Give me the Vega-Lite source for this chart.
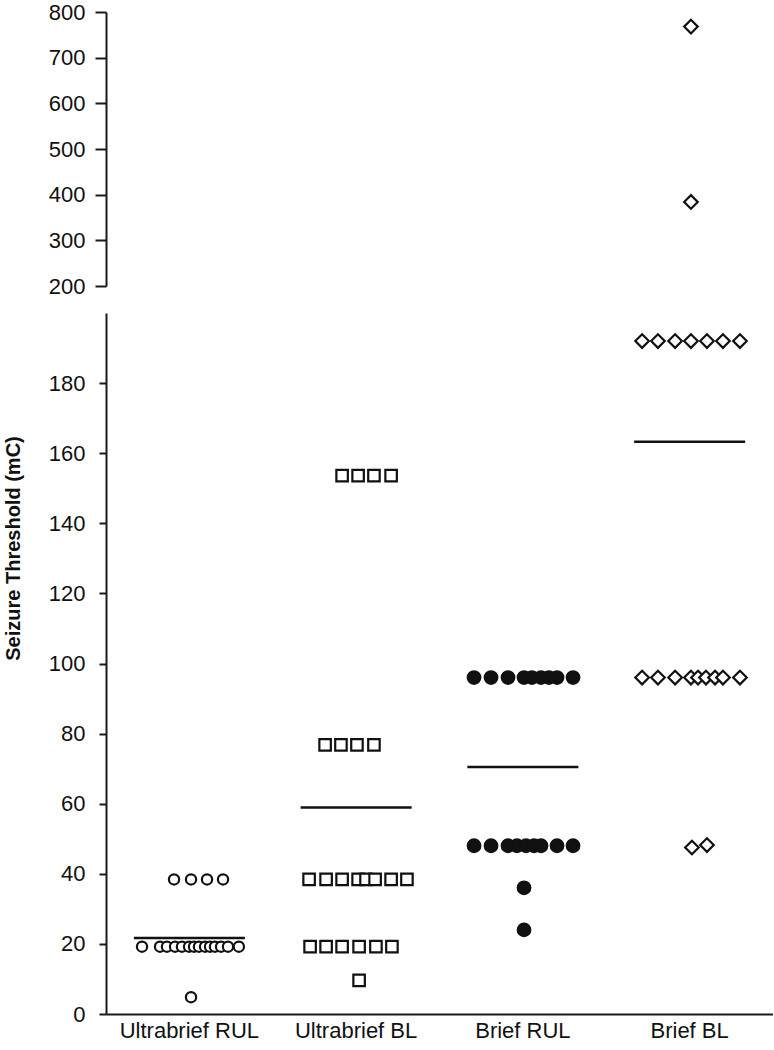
{
  "$schema": "https://vega.github.io/schema/vega-lite/v6.json",
  "padding": {"top": 1, "left": 3, "right": 0, "bottom": 0},
  "background": "white",
  "config": {
    "font": "Liberation Sans",
    "view": {"stroke": null},
    "axis": {
      "domainColor": "#1a1a1a", "domainWidth": 2, "tickColor": "#1a1a1a", "tickWidth": 2,
      "labelColor": "#111", "labelFontSize": 22, "labelFont": "Liberation Sans", "grid": false
    }
  },
  "datasets": {
    "points": [
      {"group": "Ultrabrief RUL", "value": 38.4, "slot": -0.93},
      {"group": "Ultrabrief RUL", "value": 38.4, "slot": 0.1},
      {"group": "Ultrabrief RUL", "value": 38.4, "slot": 1.07},
      {"group": "Ultrabrief RUL", "value": 38.4, "slot": 2.04},
      {"group": "Ultrabrief RUL", "value": 19.2, "slot": -2.87},
      {"group": "Ultrabrief RUL", "value": 19.2, "slot": -1.78},
      {"group": "Ultrabrief RUL", "value": 19.2, "slot": -1.36},
      {"group": "Ultrabrief RUL", "value": 19.2, "slot": -0.87},
      {"group": "Ultrabrief RUL", "value": 19.2, "slot": -0.45},
      {"group": "Ultrabrief RUL", "value": 19.2, "slot": -0.02},
      {"group": "Ultrabrief RUL", "value": 19.2, "slot": 0.28},
      {"group": "Ultrabrief RUL", "value": 19.2, "slot": 0.58},
      {"group": "Ultrabrief RUL", "value": 19.2, "slot": 0.95},
      {"group": "Ultrabrief RUL", "value": 19.2, "slot": 1.25},
      {"group": "Ultrabrief RUL", "value": 19.2, "slot": 1.55},
      {"group": "Ultrabrief RUL", "value": 19.2, "slot": 1.92},
      {"group": "Ultrabrief RUL", "value": 19.2, "slot": 2.34},
      {"group": "Ultrabrief RUL", "value": 19.2, "slot": 3.0},
      {"group": "Ultrabrief RUL", "value": 4.8, "slot": 0.1},
      {"group": "Ultrabrief BL", "value": 153.6, "slot": -0.85},
      {"group": "Ultrabrief BL", "value": 153.6, "slot": 0.12},
      {"group": "Ultrabrief BL", "value": 153.6, "slot": 1.08},
      {"group": "Ultrabrief BL", "value": 153.6, "slot": 2.12},
      {"group": "Ultrabrief BL", "value": 76.8, "slot": -1.88},
      {"group": "Ultrabrief BL", "value": 76.8, "slot": -0.92},
      {"group": "Ultrabrief BL", "value": 76.8, "slot": 0.05},
      {"group": "Ultrabrief BL", "value": 76.8, "slot": 1.08},
      {"group": "Ultrabrief BL", "value": 38.4, "slot": -2.85},
      {"group": "Ultrabrief BL", "value": 38.4, "slot": -1.82},
      {"group": "Ultrabrief BL", "value": 38.4, "slot": -0.85},
      {"group": "Ultrabrief BL", "value": 38.4, "slot": 0.12},
      {"group": "Ultrabrief BL", "value": 38.4, "slot": 0.6},
      {"group": "Ultrabrief BL", "value": 38.4, "slot": 1.15},
      {"group": "Ultrabrief BL", "value": 38.4, "slot": 2.12},
      {"group": "Ultrabrief BL", "value": 38.4, "slot": 3.08},
      {"group": "Ultrabrief BL", "value": 19.2, "slot": -2.79},
      {"group": "Ultrabrief BL", "value": 19.2, "slot": -1.82},
      {"group": "Ultrabrief BL", "value": 19.2, "slot": -0.85},
      {"group": "Ultrabrief BL", "value": 19.2, "slot": 0.18},
      {"group": "Ultrabrief BL", "value": 19.2, "slot": 1.2},
      {"group": "Ultrabrief BL", "value": 19.2, "slot": 2.17},
      {"group": "Ultrabrief BL", "value": 9.6, "slot": 0.18},
      {"group": "Brief RUL", "value": 96, "slot": -2.96},
      {"group": "Brief RUL", "value": 96, "slot": -1.93},
      {"group": "Brief RUL", "value": 96, "slot": -0.9},
      {"group": "Brief RUL", "value": 96, "slot": 0.07},
      {"group": "Brief RUL", "value": 96, "slot": 0.55},
      {"group": "Brief RUL", "value": 96, "slot": 1.1},
      {"group": "Brief RUL", "value": 96, "slot": 1.58},
      {"group": "Brief RUL", "value": 96, "slot": 2.07},
      {"group": "Brief RUL", "value": 96, "slot": 3.04},
      {"group": "Brief RUL", "value": 48, "slot": -2.96},
      {"group": "Brief RUL", "value": 48, "slot": -1.93},
      {"group": "Brief RUL", "value": 48, "slot": -0.9},
      {"group": "Brief RUL", "value": 48, "slot": -0.36},
      {"group": "Brief RUL", "value": 48, "slot": 0.19},
      {"group": "Brief RUL", "value": 48, "slot": 0.68},
      {"group": "Brief RUL", "value": 48, "slot": 1.1},
      {"group": "Brief RUL", "value": 48, "slot": 2.07},
      {"group": "Brief RUL", "value": 48, "slot": 3.04},
      {"group": "Brief RUL", "value": 36, "slot": 0.07},
      {"group": "Brief RUL", "value": 24, "slot": 0.07},
      {"group": "Brief BL", "value": 768, "slot": 0.08},
      {"group": "Brief BL", "value": 384, "slot": 0.08},
      {"group": "Brief BL", "value": 192, "slot": -2.88},
      {"group": "Brief BL", "value": 192, "slot": -1.92},
      {"group": "Brief BL", "value": 192, "slot": -0.88},
      {"group": "Brief BL", "value": 192, "slot": 0.08},
      {"group": "Brief BL", "value": 192, "slot": 1.05},
      {"group": "Brief BL", "value": 192, "slot": 2.02},
      {"group": "Brief BL", "value": 192, "slot": 3.05},
      {"group": "Brief BL", "value": 96, "slot": -2.88},
      {"group": "Brief BL", "value": 96, "slot": -1.92},
      {"group": "Brief BL", "value": 96, "slot": -0.88},
      {"group": "Brief BL", "value": 96, "slot": 0.08},
      {"group": "Brief BL", "value": 96, "slot": 0.51},
      {"group": "Brief BL", "value": 96, "slot": 0.99},
      {"group": "Brief BL", "value": 96, "slot": 1.54},
      {"group": "Brief BL", "value": 96, "slot": 2.02},
      {"group": "Brief BL", "value": 96, "slot": 3.05},
      {"group": "Brief BL", "value": 47.5, "slot": 0.14},
      {"group": "Brief BL", "value": 48.2, "slot": 1.05}
    ],
    "means": [
      {"group": "Ultrabrief RUL", "mean": 21.7},
      {"group": "Ultrabrief BL", "mean": 58.9},
      {"group": "Brief RUL", "mean": 70.5},
      {"group": "Brief BL", "mean": 163.3}
    ]
  },
  "bounds": "flush",
  "spacing": 27,
  "vconcat": [
    {
      "width": 667,
      "height": 274,
      "data": {"name": "points"},
      "transform": [{"filter": "datum.value >= 200"}],
      "mark": {"type": "point", "filled": true, "stroke": "#111", "strokeWidth": 2.2, "opacity": 1},
      "encoding": {
        "x": {"field": "group", "type": "nominal", "axis": null,
              "scale": {"type": "band", "domain": ["Ultrabrief RUL", "Ultrabrief BL", "Brief RUL", "Brief BL"], "paddingInner": 0, "paddingOuter": 0}},
        "xOffset": {"field": "slot", "type": "quantitative", "scale": {"domain": [-5.053, 5.053], "range": [0, 166.75]}},
        "y": {"field": "value", "type": "quantitative", "title": null,
              "scale": {"domain": [200, 800], "nice": false, "zero": false},
              "axis": {"values": [200, 300, 400, 500, 600, 700, 800], "tickSize": 11, "labelPadding": 10}},
        "shape": {"field": "group", "type": "nominal", "legend": null,
                  "scale": {"domain": ["Ultrabrief RUL", "Ultrabrief BL", "Brief RUL", "Brief BL"], "range": ["circle", "square", "circle", "diamond"]}},
        "fill": {"field": "group", "type": "nominal", "legend": null,
                 "scale": {"domain": ["Ultrabrief RUL", "Ultrabrief BL", "Brief RUL", "Brief BL"], "range": ["white", "white", "#111", "white"]}},
        "size": {"field": "group", "type": "nominal", "legend": null,
                 "scale": {"domain": ["Ultrabrief RUL", "Ultrabrief BL", "Brief RUL", "Brief BL"], "range": [105, 185, 210, 150]}}
      }
    },
    {
      "width": 667,
      "height": 701,
      "layer": [
        {
          "data": {"name": "points"},
          "transform": [{"filter": "datum.value < 200"}],
          "mark": {"type": "point", "filled": true, "stroke": "#111", "strokeWidth": 2.2, "opacity": 1},
          "encoding": {
            "x": {"field": "group", "type": "nominal", "title": null,
                  "sort": ["Ultrabrief RUL", "Ultrabrief BL", "Brief RUL", "Brief BL"],
                  "scale": {"type": "band", "domain": ["Ultrabrief RUL", "Ultrabrief BL", "Brief RUL", "Brief BL"], "paddingInner": 0, "paddingOuter": 0},
                  "axis": {"ticks": false, "labelAngle": 0, "labelPadding": 6, "labelFontSize": 22}},
            "xOffset": {"field": "slot", "type": "quantitative", "scale": {"domain": [-5.053, 5.053], "range": [0, 166.75]}},
            "y": {"field": "value", "type": "quantitative", "title": "Seizure Threshold (mC)",
                  "scale": {"domain": [0, 200], "nice": false},
                  "axis": {"values": [0, 10, 20, 30, 40, 50, 60, 70, 80, 90, 100, 110, 120, 130, 140, 150, 160, 170, 180, 190],
                           "labelExpr": "datum.value % 20 === 0 ? datum.label : ''",
                           "tickSize": 7, "labelPadding": 14,
                           "titleFontSize": 20, "titleFontWeight": "bold", "titleColor": "#111",
                           "titleX": -93, "titleY": 235, "titleAngle": -90, "titleBaseline": "middle", "titleAlign": "center"}},
            "shape": {"field": "group", "type": "nominal", "legend": null,
                      "scale": {"domain": ["Ultrabrief RUL", "Ultrabrief BL", "Brief RUL", "Brief BL"], "range": ["circle", "square", "circle", "diamond"]}},
            "fill": {"field": "group", "type": "nominal", "legend": null,
                     "scale": {"domain": ["Ultrabrief RUL", "Ultrabrief BL", "Brief RUL", "Brief BL"], "range": ["white", "white", "#111", "white"]}},
            "size": {"field": "group", "type": "nominal", "legend": null,
                     "scale": {"domain": ["Ultrabrief RUL", "Ultrabrief BL", "Brief RUL", "Brief BL"], "range": [105, 185, 210, 150]}}
          }
        },
        {
          "data": {"name": "means"},
          "mark": {"type": "tick", "orient": "horizontal", "size": 111, "thickness": 2.5, "color": "#111", "opacity": 1},
          "encoding": {
            "x": {"field": "group", "type": "nominal"},
            "y": {"field": "mean", "type": "quantitative"}
          }
        }
      ]
    }
  ]
}
